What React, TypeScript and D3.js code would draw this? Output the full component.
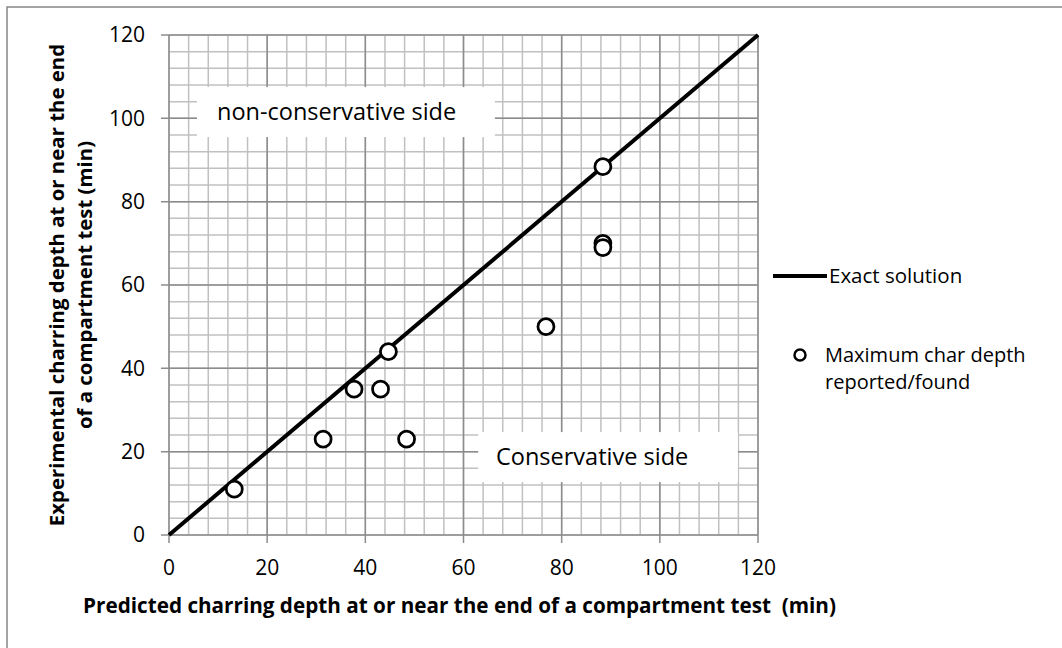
import React from "react";
import * as d3 from "d3";

const predicted = [13.3, 31.4, 37.7, 43.1, 44.7, 48.4, 76.8, 88.4, 88.4, 88.4];
const experimental = [11.0, 23.0, 35.0, 35.0, 44.0, 23.0, 50.0, 88.4, 70.0, 69.0];
const exactLine = [0, 120];
const xTicks = [0, 20, 40, 60, 80, 100, 120];
const yTicks = [0, 20, 40, 60, 80, 100, 120];
const minorStep = 4;

const W = 1062;
const H = 648;
const FONT = "'Open Sans', 'Liberation Sans', sans-serif";

export default function App() {
  const x = d3.scaleLinear().domain([0, 120]).range([169, 758]);
  const y = d3.scaleLinear().domain([0, 120]).range([535, 35]);
  const minor = d3.range(0, 120 + 0.001, minorStep);
  const line = d3
    .line<number>()
    .x((d) => x(d))
    .y((d) => y(d));

  const boxes = [
    { label: "non-conservative side", x0: 5.7, x1: 66.4, y0: 95.5, y1: 107.5, tx: 217 },
    { label: "Conservative side", x0: 63.0, x1: 115.9, y0: 12.7, y1: 24.7, tx: 496 },
  ];

  return (
    <svg
      width={W}
      height={H}
      style={{ position: "absolute", left: 0, top: 0, display: "block", background: "#fff" }}
    >
      <rect x={7} y={7} width={W + 20} height={H + 20} fill="#fff" stroke="#868686" strokeWidth={1.5} />
      {/* minor grid */}
      <g stroke="#c0c0c0" strokeWidth={1.5}>
        {minor.map((v) => (
          <line key={"vx" + v} x1={x(v)} x2={x(v)} y1={y(0)} y2={y(120)} />
        ))}
        {minor.map((v) => (
          <line key={"hy" + v} x1={x(0)} x2={x(120)} y1={y(v)} y2={y(v)} />
        ))}
      </g>
      {/* major grid */}
      <g stroke="#8c8c8c" strokeWidth={1.5}>
        {xTicks.map((v) => (
          <line key={"MX" + v} x1={x(v)} x2={x(v)} y1={y(0) + 8} y2={y(120)} />
        ))}
        {yTicks.map((v) => (
          <line key={"MY" + v} x1={x(0) - 8} x2={x(120)} y1={y(v)} y2={y(v)} />
        ))}
      </g>
      {/* annotation boxes */}
      {boxes.map((b) => (
        <g key={b.label}>
          <rect
            x={x(b.x0)}
            y={y(b.y1)}
            width={x(b.x1) - x(b.x0)}
            height={y(b.y0) - y(b.y1)}
            fill="#fff"
          />
          <text
            x={b.tx}
            y={(y(b.y0) + y(b.y1)) / 2}
            dy="0.35em"
            fontFamily={FONT}
            fontSize={23.5}
            fill="#000"
          >
            {b.label}
          </text>
        </g>
      ))}
      {/* tick labels */}
      <g fontFamily={FONT} fontSize={21} fill="#000">
        {xTicks.map((v) => (
          <text key={"tx" + v} x={x(v)} y={568} dy="0.35em" textAnchor="middle">
            {v}
          </text>
        ))}
        {yTicks.map((v) => (
          <text key={"ty" + v} x={145} y={y(v)} dy="0.35em" textAnchor="end">
            {v}
          </text>
        ))}
      </g>
      {/* exact solution line */}
      <path d={line(exactLine) || ""} stroke="#000" strokeWidth={4} fill="none" />
      {/* points */}
      {predicted.map((p, i) => (
        <circle key={"p" + i} cx={x(p)} cy={y(experimental[i])} r={8} fill="#fff" stroke="#000" strokeWidth={2.75} />
      ))}
      {/* axis titles */}
      <text
        x={459.5}
        y={606}
        dy="0.35em"
        textAnchor="middle"
        fontFamily={FONT}
        fontSize={20.7}
        fontWeight="bold"
      >
        {"Predicted charring depth at or near the end of a compartment test\u00a0\u00a0(min)"}
      </text>
      <g transform={`translate(71, ${(y(0) + y(120)) / 2}) rotate(-90)`} fontFamily={FONT} fontSize={20.4} fontWeight="bold">
        <text x={0} y={-14} dy="0.35em" textAnchor="middle">
          Experimental charring depth at or near the end
        </text>
        <text x={0} y={14} dy="0.35em" textAnchor="middle">
          of a compartment test (min)
        </text>
      </g>
      {/* legend */}
      <line x1={773} x2={827} y1={276} y2={276} stroke="#000" strokeWidth={4} />
      <text x={829} y={276} dy="0.35em" fontFamily={FONT} fontSize={20.5}>
        Exact solution
      </text>
      <circle cx={800} cy={355} r={5.5} fill="#fff" stroke="#000" strokeWidth={2.5} />
      <text x={825} y={355} dy="0.35em" fontFamily={FONT} fontSize={20}>
        Maximum char depth
      </text>
      <text x={825} y={382} dy="0.35em" fontFamily={FONT} fontSize={20}>
        reported/found
      </text>
    </svg>
  );
}
